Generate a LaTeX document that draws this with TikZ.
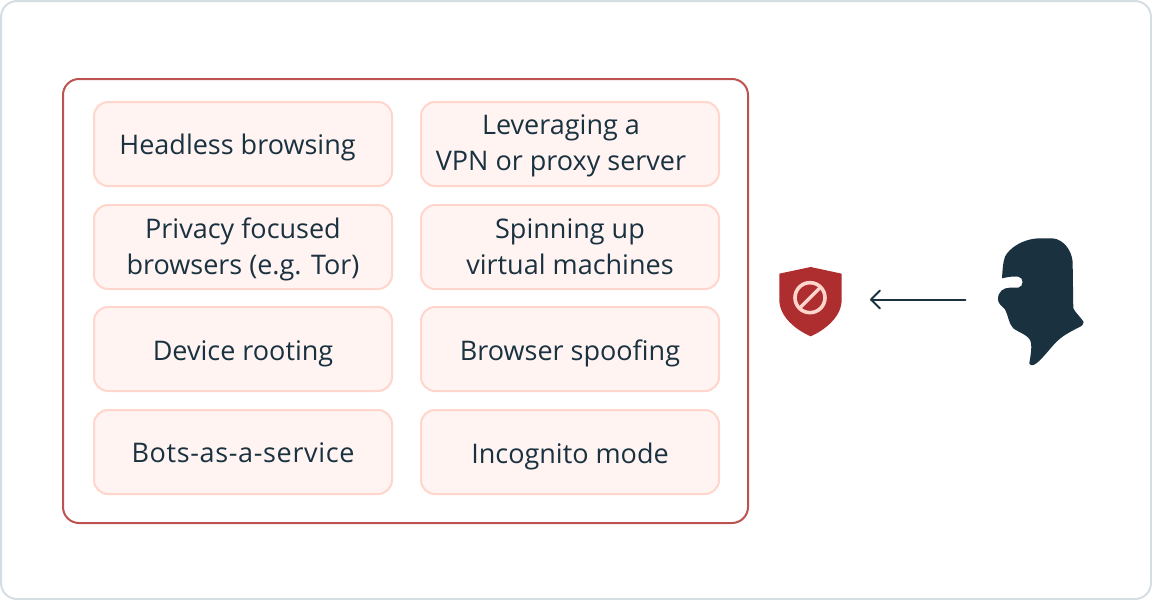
\documentclass[tikz,border=0pt]{standalone}
\usepackage{fontspec}
\setmainfont{Open Sans}
\definecolor{ink}{HTML}{1A3140}
\definecolor{framecol}{HTML}{D5DEE3}
\definecolor{outercol}{HTML}{BC5350}
\definecolor{boxfill}{HTML}{FFF4F2}
\definecolor{boxline}{HTML}{FFD5CC}
\definecolor{shieldred}{HTML}{AE2E30}
\newcommand{\sft}[1]{\hspace*{#1pt}}
\newcommand{\ones}{\rule[-7pt]{0pt}{36pt}}
\newcommand{\oneh}{\rule[-8pt]{0pt}{36pt}}
\newcommand{\twos}{\rule[-10pt]{0pt}{36pt}}
\newcommand{\twob}{\rule[-9pt]{0pt}{36pt}}
\tikzset{
  itembox/.style={draw=boxline,fill=boxfill,line width=2pt,rounded corners=14pt,minimum width=298pt,minimum height=84pt,inner sep=0pt,align=center,text=ink,font=\fontsize{27}{36}\selectfont},
  icon/.style={draw=none,fill=none,inner sep=0pt,minimum width=63pt,minimum height=69pt},
}
\begin{document}
\begin{tikzpicture}[x=1pt,y=-1pt]
\useasboundingbox (0,0) rectangle (1152,600);
\fill[white] (0,0) rectangle (1152,600);
\draw[framecol,line width=2pt,rounded corners=16pt] (1,1) rectangle (1151,599);
\draw[outercol,line width=2pt,rounded corners=16pt] (63,79) rectangle (748,523);
\node[itembox] (headless) at (243,144) {\oneh Headless browsing\sft{11}};
\node[itembox] (vpn) at (570,144) {\twos Leveraging a\sft{18}\\\twos VPN or proxy server\sft{18}};
\node[itembox] (privacy) at (243,247) {\twob Privacy focused\\\twob browsers (e.g. Tor)};
\node[itembox] (vms) at (570,247) {\twob Spinning up\\\twob virtual machines};
\node[itembox] (rooting) at (243,349) {\ones Device rooting};
\node[itembox] (spoof) at (570,349) {\ones Browser spoofing};
\node[itembox] (bots) at (243,452) {\oneh\addfontfeature{LetterSpace=2.4}Bots-as-a-service};
\node[itembox] (incognito) at (570,452) {\ones Incognito mode};
% shield
\node[icon] (shield) at (810.5,299.5) {};
\begin{scope}[shift={(760,220)},x=0.3333pt,y=-0.3333pt]
\fill[shieldred] (152,141) -- (245,161) -- (245,240) .. controls (245,290) and (195,330) .. (152,349) .. controls (108,330) and (58,290) .. (58,240) -- (58,161) -- cycle;
\draw[boxline,line width=3.6pt] (150,233) circle (45);
\draw[boxline,line width=3.4pt] (120,263) -- (180,203);
\end{scope}
% masked figure
\node[icon,minimum width=87pt,minimum height=127pt] (attacker) at (1041,300) {};
\begin{scope}[shift={(760,220)},x=0.3333pt,y=-0.3333pt]
\fill[ink] (835,55) -- (878,55) .. controls (910,58) and (935,90) .. (938,125)
 -- (940,265) .. controls (948,280) and (965,295) .. (971,306)
 .. controls (972,314) and (965,318) .. (955,323)
 .. controls (925,338) and (905,350) .. (890,365)
 .. controls (870,385) and (845,420) .. (825,433)
 .. controls (815,438) and (808,436) .. (808,430)
 .. controls (812,405) and (816,385) .. (813,368)
 .. controls (808,345) and (780,340) .. (760,325)
 .. controls (745,310) and (745,285) .. (735,268)
 .. controls (725,258) and (714,250) .. (714,238)
 .. controls (714,215) and (730,203) .. (750,203)
 -- (775,203) .. controls (792,200) and (792,172) .. (775,170)
 .. controls (755,168) and (740,172) .. (726,175)
 .. controls (728,150) and (728,130) .. (735,110)
 .. controls (748,85) and (785,58) .. (835,55) -- cycle;
\end{scope}
% arrow
\draw[ink,line width=2pt,line cap=round,shorten >=29pt,shorten <=32pt] (attacker.west |- shield.east) -- (shield.east);
\coordinate (tipend) at (871,299.5);
\draw[ink,line width=2pt,line cap=round,line join=round] ([shift={(9,-9)}]tipend) -- (tipend) -- ([shift={(9,9)}]tipend);
\end{tikzpicture}
\end{document}
